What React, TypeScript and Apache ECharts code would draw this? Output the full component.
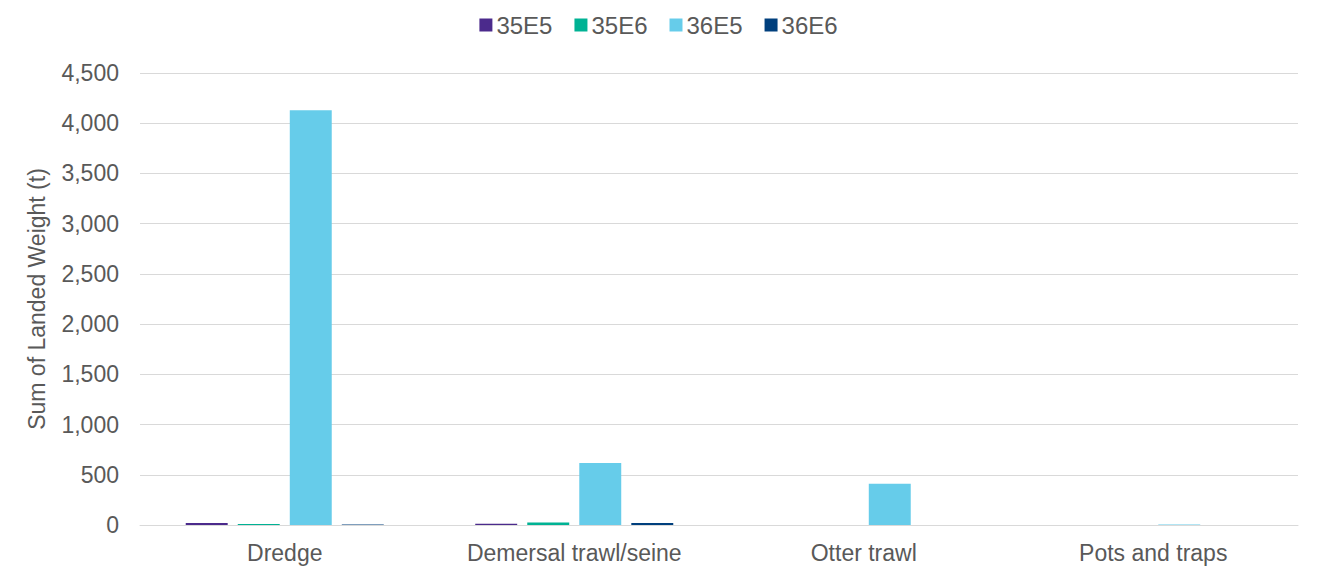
import React, { useEffect, useRef } from "react";
import * as echarts from "echarts";

const categories = ["Dredge", "Demersal trawl/seine", "Otter trawl", "Pots and traps"];
const seriesNames = ["35E5", "35E6", "36E5", "36E6"];
const s35E5 = [20, 12, 0, 0];
const s35E6 = [10, 25, 0, 0];
const s36E5 = [4130, 618, 410, 4];
const s36E6 = [6, 20, 0, 0];
const seriesColors = ["#4B2A8C", "#00B294", "#66CCEA", "#003F7D"];

const FONT = "Liberation Sans, Arial, sans-serif";
const TEXT_COLOR = "#595959";

export default function App() {
  const ref = useRef<HTMLDivElement>(null);

  useEffect(() => {
    if (!ref.current) return;
    const chart = echarts.init(ref.current, undefined, { renderer: "svg" });
    const values = [s35E5, s35E6, s36E5, s36E6];
    chart.setOption({
      animation: false,
      textStyle: { fontFamily: FONT },
      legend: {
        top: 8,
        left: "center",
        itemWidth: 13,
        itemHeight: 13,
        itemGap: 22,
        icon: "rect",
        textStyle: { fontSize: 24, color: TEXT_COLOR, fontFamily: FONT, padding: [0, 0, 0, -1] },
        data: seriesNames,
      },
      grid: { left: 140, right: 19, top: 73, bottom: 41, containLabel: false },
      xAxis: {
        type: "category",
        data: categories,
        axisLine: { show: true, lineStyle: { color: "#D9D9D9", width: 1 } },
        axisTick: { show: false },
        axisLabel: { fontSize: 23, color: TEXT_COLOR, margin: 16, fontFamily: FONT },
      },
      yAxis: {
        type: "value",
        min: 0,
        max: 4500,
        interval: 500,
        name: "Sum of Landed Weight (t)",
        nameLocation: "middle",
        nameGap: 92,
        nameTextStyle: { fontSize: 23, color: TEXT_COLOR, fontFamily: FONT },
        axisLine: { show: false },
        axisTick: { show: false },
        splitLine: { lineStyle: { color: "#D9D9D9", width: 1 } },
        axisLabel: {
          fontSize: 23,
          color: TEXT_COLOR,
          margin: 21,
          fontFamily: FONT,
          formatter: (v: number) => v.toLocaleString("en-US"),
        },
      },
      series: seriesNames.map((name, i) => ({
        name,
        type: "bar",
        data: values[i],
        barGap: "24%",
        barCategoryGap: "31.6%",
        itemStyle: { color: seriesColors[i] },
      })),
    });
    return () => chart.dispose();
  }, []);

  return (
    <div
      ref={ref}
      style={{ position: "absolute", left: 0, top: 0, width: 1317, height: 566 }}
    />
  );
}
